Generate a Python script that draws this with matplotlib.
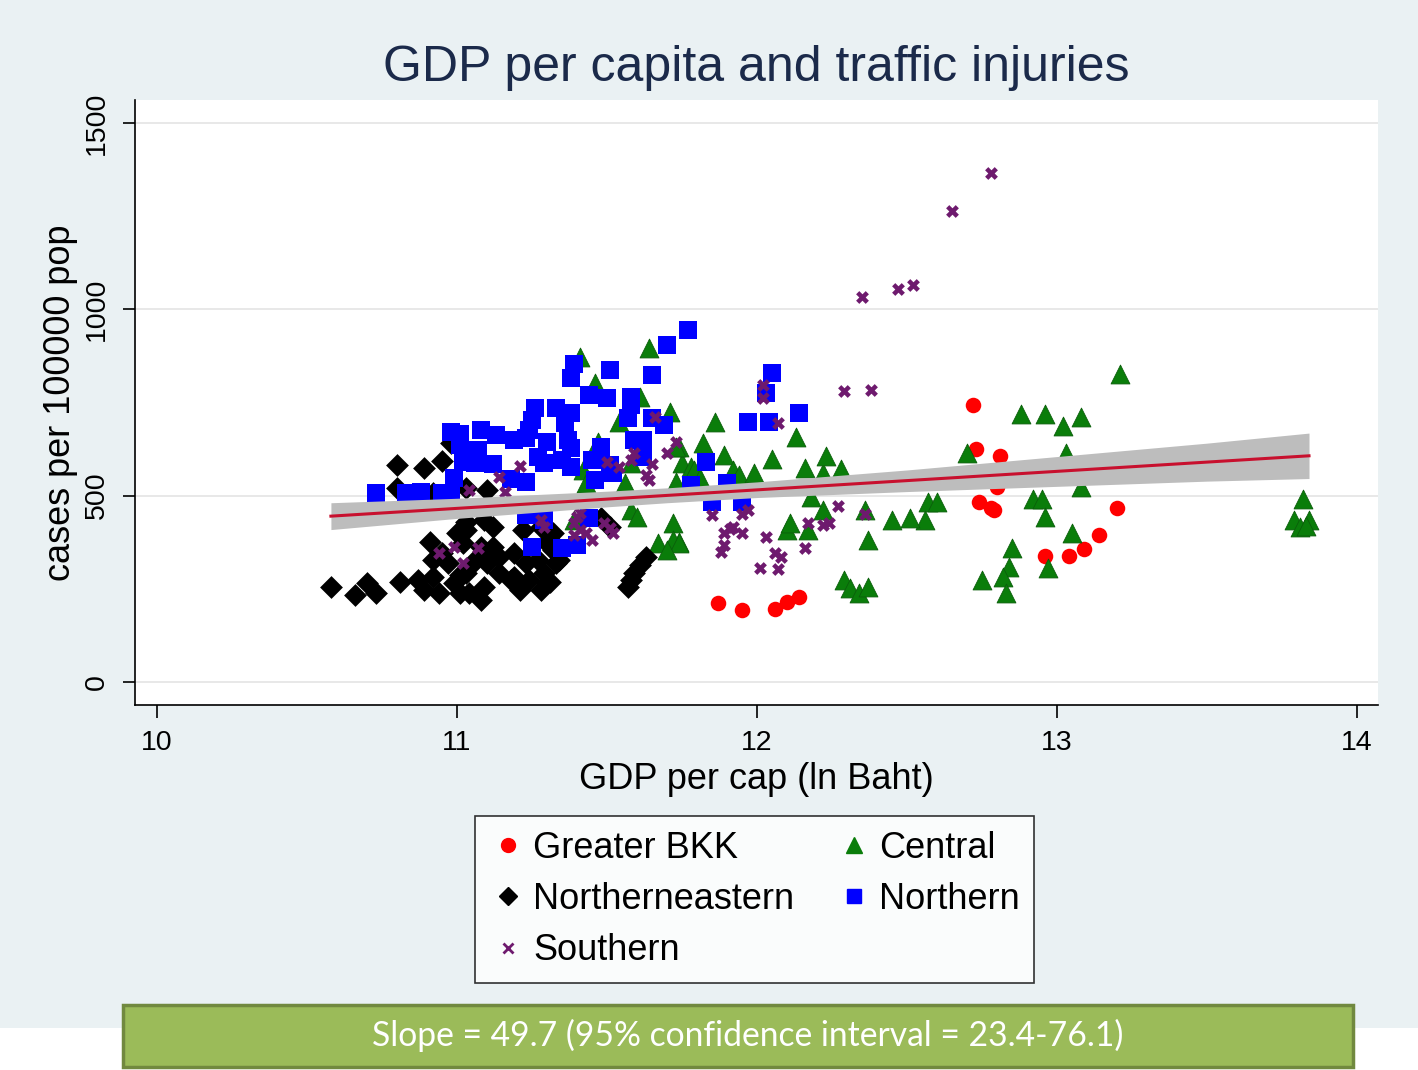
import matplotlib
matplotlib.use('Agg')

from matplotlib import pyplot as plt
from matplotlib.patches import Rectangle
import numpy as np

# Greater BKK (red circles)
bkk_x = [11.87, 11.95, 12.06, 12.10, 12.14, 12.72, 12.73, 12.81, 12.74, 12.78,
         12.79, 12.80, 12.96, 13.04, 13.09, 13.14, 13.20]
bkk_y = [212, 193, 196, 215, 228, 743, 625, 606, 483, 467,
         461, 523, 338, 338, 357, 394, 467]

# Central (green triangles)
cen_x = [13.21, 12.88, 12.96, 13.02, 13.08, 13.03, 13.08, 12.92, 12.95, 12.96,
         13.05, 12.85, 12.84, 12.82, 12.83, 12.97, 12.75, 12.70, 12.57, 12.60,
         12.56, 12.51, 12.45, 12.37, 12.29, 12.31, 12.34, 12.37, 12.36, 12.22,
         12.18, 12.10, 12.11, 12.17, 11.86, 11.82, 11.89, 12.05, 12.13, 11.92,
         11.94, 11.99, 12.16, 12.22, 12.23, 12.28, 11.75, 11.78, 11.79, 11.74,
         11.74, 13.82, 13.79, 13.84, 13.81, 13.83, 11.64, 11.41, 11.46, 11.61,
         11.71, 11.54, 11.47, 11.73, 11.73, 11.81, 11.58, 11.42, 11.43, 11.56,
         11.58, 11.60, 11.72, 11.67, 11.72, 11.74, 11.70, 11.39]
cen_y = [826, 719, 719, 687, 711, 614, 523, 490, 490, 443,
         400, 360, 309, 282, 239, 306, 274, 614, 483, 483,
         435, 440, 435, 381, 274, 252, 239, 255, 461, 461,
         496, 408, 427, 408, 698, 641, 609, 598, 657, 569,
         555, 561, 574, 561, 606, 572, 588, 577, 569, 631,
         376, 491, 435, 435, 416, 419, 896, 872, 802, 765,
         724, 698, 644, 631, 537, 547, 588, 569, 534, 534,
         461, 443, 427, 373, 381, 373, 354, 435]

# Northerneastern (black diamonds)
ne_x = [10.58, 10.66, 10.70, 10.73, 10.80, 10.89, 10.95, 10.80, 10.92, 10.81,
        10.87, 10.89, 10.92, 10.94, 10.99, 11.01, 11.03, 11.04, 11.08, 11.09,
        11.14, 11.19, 11.21, 11.24, 11.28, 11.30, 11.29, 11.31, 11.33, 11.34,
        11.23, 11.27, 11.14, 11.19, 11.08, 11.10, 11.00, 11.02, 10.91, 10.95,
        11.03, 11.09, 11.12, 11.22, 11.32, 11.28, 11.30, 11.04, 11.10, 10.97,
        10.92, 11.18, 11.12, 11.10, 11.03, 10.98, 11.57, 11.58, 11.59, 11.61,
        11.63, 11.48, 11.51, 11.31, 11.32, 11.01, 11.06, 11.03]
ne_y = [255, 233, 266, 239, 582, 574, 593, 521, 507, 268,
        274, 247, 282, 239, 266, 239, 292, 239, 220, 255,
        292, 282, 247, 274, 247, 266, 292, 268, 319, 327,
        319, 327, 335, 346, 362, 346, 400, 373, 376, 346,
        429, 435, 416, 408, 400, 416, 373, 309, 319, 319,
        327, 274, 362, 515, 521, 641, 255, 274, 292, 314,
        335, 440, 416, 381, 354, 287, 327, 408]

# Northern (blue squares)
no_x = [11.77, 11.70, 11.39, 11.38, 11.51, 11.65, 11.44, 11.50, 11.58, 11.58,
        11.26, 11.33, 11.38, 11.25, 11.24, 11.36, 11.57, 11.65, 11.69, 10.98,
        11.01, 11.08, 11.13, 11.19, 11.23, 11.30, 11.37, 11.38, 11.59, 11.62,
        11.01, 11.07, 11.48, 11.27, 11.29, 11.35, 11.38, 11.45, 11.51, 11.52,
        11.62, 11.02, 11.06, 11.12, 10.99, 11.18, 11.23, 11.46, 10.73, 10.83,
        10.88, 10.95, 10.98, 12.05, 12.03, 11.97, 12.04, 12.14, 11.83, 11.78,
        11.90, 11.85, 11.95, 11.29, 11.23, 11.44, 11.25, 11.35, 11.40]
no_y = [944, 904, 853, 816, 837, 824, 770, 762, 765, 743,
        735, 735, 722, 703, 676, 695, 708, 708, 690, 671,
        665, 676, 663, 649, 655, 644, 649, 628, 649, 649,
        636, 623, 631, 604, 588, 596, 577, 596, 582, 561,
        604, 590, 588, 585, 547, 545, 537, 542, 507, 507,
        510, 507, 507, 829, 775, 698, 698, 722, 590, 529,
        534, 483, 483, 435, 448, 440, 362, 360, 368]

# Southern (purple crosses)
so_x = [12.78, 12.65, 12.35, 12.47, 12.52, 12.29, 12.38, 12.02, 12.02, 12.07,
        11.85, 11.95, 11.97, 11.89, 11.91, 11.92, 11.95, 11.88, 11.89, 12.03,
        12.06, 12.08, 12.07, 12.01, 12.16, 12.17, 12.22, 12.24, 12.27, 12.36,
        11.66, 11.73, 11.70, 11.59, 11.58, 11.65, 11.63, 11.64, 11.54, 11.50,
        11.21, 11.28, 11.29, 11.39, 11.41, 11.43, 11.45, 11.49, 11.51, 11.52,
        11.41, 11.14, 11.16, 11.04, 11.40, 11.39, 11.07, 11.02, 10.94, 10.99]
so_y = [1366, 1264, 1033, 1054, 1065, 781, 783, 797, 762, 695,
        448, 451, 461, 400, 411, 416, 400, 349, 368, 389,
        346, 335, 303, 306, 360, 427, 421, 427, 472, 451,
        711, 644, 614, 614, 596, 585, 555, 542, 577, 590,
        580, 435, 416, 427, 408, 400, 381, 427, 413, 400,
        453, 550, 510, 515, 443, 394, 360, 319, 346, 362]

# linear fit and 95% CI band
fit_x = [10.58, 13.84]
fit_y = [445, 607]
ci_x = [10.58, 11.0, 11.5, 11.7, 12.0, 12.5, 13.0, 13.5, 13.84]
ci_lo = [409, 439, 470, 481, 495, 511, 525, 539, 546]
ci_hi = [481, 493, 512, 521, 537, 569, 605, 641, 668]

y_ticks = [0, 500, 1000, 1500]
x_ticks = [10, 11, 12, 13, 14]

bg = '#eaf1f3'
plt.rcParams['font.family'] = ['Liberation Sans', 'DejaVu Sans']

fig = plt.figure(figsize=(14.18, 10.70), dpi=100)
fig.patch.set_facecolor('white')
# light stata background, white strip at the bottom
fig.add_artist(Rectangle((0, 0.0393), 1, 1 - 0.0393, transform=fig.transFigure,
                         facecolor=bg, edgecolor='none', zorder=0))

ax = fig.add_axes([0.0952, 0.3411, 0.8766, 0.5654])
ax.set_facecolor('white')

ax.scatter(bkk_x, bkk_y, marker='o', s=125, color='#ff0000', linewidths=0, zorder=2)
ax.scatter(cen_x, cen_y, marker='^', s=185, color='#0a7d0a', edgecolors='#0b5e0b', linewidths=0.6, zorder=2)
ax.scatter(ne_x, ne_y, marker='D', s=135, color='black', linewidths=0, zorder=2)
ax.scatter(no_x, no_y, marker='s', s=150, color='#0000ff', linewidths=0, zorder=2)
ax.scatter(so_x, so_y, marker='X', s=85, color='#6e1a6e', linewidths=0, zorder=2)

ax.fill_between(ci_x, ci_lo, ci_hi, color='#bdbdbd', linewidth=0, zorder=3)
ax.plot(fit_x, fit_y, color='#c8102e', linewidth=2.2, zorder=4)

ax.set_xlim(9.927, 14.07)
ax.set_ylim(-62, 1562)
ax.set_xticks(x_ticks)
ax.set_yticks(y_ticks)
ax.yaxis.grid(True, color='#e6e6e6', linewidth=1.3)
ax.set_axisbelow(True)
for side in ['top', 'right']:
    ax.spines[side].set_visible(False)
for side in ['left', 'bottom']:
    ax.spines[side].set_linewidth(1.2)
ax.tick_params(axis='both', length=9, width=1.2, labelsize=20.5, pad=9)
plt.setp(ax.get_yticklabels(), rotation=90, va='center')

ax.set_xlabel('GDP per cap (ln Baht)', fontsize=26, labelpad=4)
ax.set_ylabel('cases per 100000 pop', fontsize=26, labelpad=4)
ax.set_title('GDP per capita and traffic injuries', fontsize=36, color='#1b2a4a', pad=14)

# legend, two columns (column-major order)
h_bkk = plt.Line2D([], [], marker='o', ls='', color='#ff0000', ms=10)
h_cen = plt.Line2D([], [], marker='^', ls='', color='#0a7d0a', ms=11)
h_ne = plt.Line2D([], [], marker='D', ls='', color='black', ms=9)
h_no = plt.Line2D([], [], marker='s', ls='', color='#0000ff', ms=10)
h_so = plt.Line2D([], [], marker='x', ls='', color='#6e1a6e', ms=7, mew=2)
leg = fig.legend([h_bkk, h_ne, h_so, h_cen, h_no],
                 ['Greater BKK', 'Northerneastern', 'Southern', 'Central', 'Northern'],
                 ncol=2, loc='center', bbox_to_anchor=(0.5324, 0.1594),
                 fontsize=26, frameon=True, fancybox=False, edgecolor='black',
                 handlelength=1.0, handletextpad=0.2, columnspacing=1.15,
                 labelspacing=0.45, borderpad=0.4, borderaxespad=0)
leg.get_frame().set_linewidth(1.2)

# slope box
fig.add_artist(Rectangle((0.0867, 0.0028), 0.8675, 0.0579, transform=fig.transFigure,
                         facecolor='#9bbb59', edgecolor='#71893f', linewidth=2.5, zorder=5))
fig.text(0.5275, 0.032, 'Slope = 49.7 (95% confidence interval = 23.4-76.1)',
         ha='center', va='center', fontsize=24.2, color='white', family='Lato', zorder=6)

plt.savefig('out.png', dpi=100, facecolor=fig.get_facecolor())
